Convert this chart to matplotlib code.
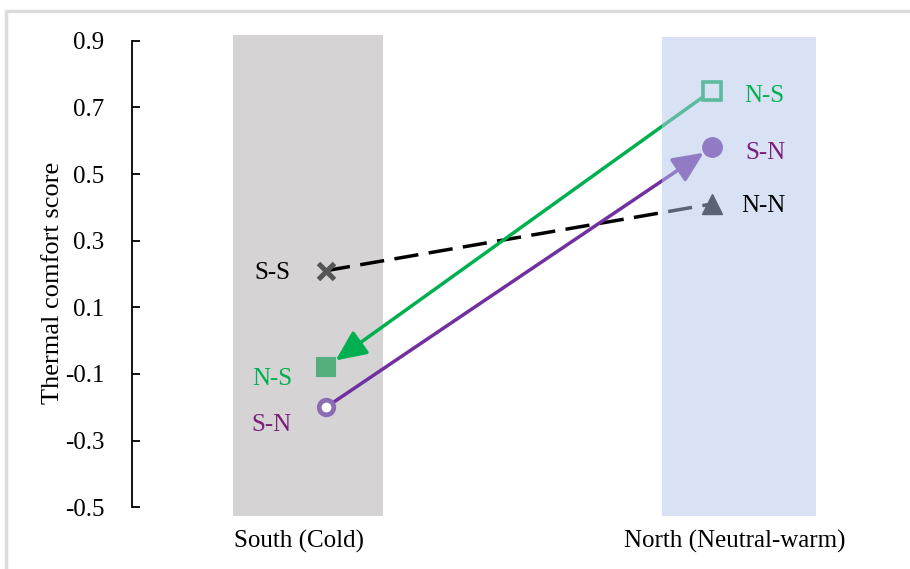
import matplotlib
matplotlib.use("Agg")
import matplotlib.pyplot as plt
from matplotlib.patches import Rectangle

plt.rcParams["font.family"] = ["Liberation Serif", "DejaVu Serif"]
plt.rcParams["font.size"] = 18

# Thermal comfort scores by climate of origin -> climate of test
climates = ["South (Cold)", "North (Neutral-warm)"]
ss_nn = [0.21, 0.41]   # S-S measured in the south, N-N measured in the north
ns = [-0.08, 0.75]     # N-S group: south value, north value
sn = [-0.20, 0.58]     # S-N group: south value, north value
yticks = [-0.5, -0.3, -0.1, 0.1, 0.3, 0.5, 0.7, 0.9]

GREEN = "#00B050"
PURPLE = "#7030A0"
LABEL_PURPLE = "#7B1E7A"
LW = 2.5

fig = plt.figure(figsize=(9.1, 5.69), dpi=100)
ax = fig.add_axes([132 / 910, 51.7 / 569, 748 / 910, 486.6 / 569])
ax.set_xlim(-0.383, 1.333)
ax.set_ylim(-0.53, 0.93)

# marker columns sit slightly inside each climate band
xs = [0.062, 0.947]

# climate bands: grey one behind the data, translucent blue one over it
ax.add_patch(Rectangle((-0.151, -0.525), 0.344, 1.442, facecolor="#D5D3D4",
                       lw=0, zorder=0))
ax.add_patch(Rectangle((0.833, -0.525), 0.353, 1.436, facecolor="#B4C6EA",
                       alpha=0.5, lw=0, zorder=4))

# control groups: S-S to N-N dashed link
ax.plot(xs, ss_nn, color="black", lw=LW, dashes=(7, 3), zorder=2)
ax.plot(xs[0], ss_nn[0], marker="x", ms=11, mew=3.6, color="#555555", zorder=3)
ax.plot(xs[1], ss_nn[1], marker="^", ms=14, color="black", zorder=3)

arrow_style = "-|>,head_length=1.1,head_width=0.5"

# N-S group moves north -> south
ax.annotate("", xy=(xs[0], ns[0]), xytext=(xs[1], ns[1]),
            arrowprops=dict(arrowstyle=arrow_style, color=GREEN, lw=LW,
                            shrinkA=0, shrinkB=8.5, mutation_scale=17),
            zorder=2)
ax.plot(xs[0], ns[0], marker="s", ms=13, color="#55AE7E", mec="#55AE7E",
        mew=1.5, zorder=3)
ax.plot(xs[1], ns[1], marker="s", ms=13.5, mfc="white", mec=GREEN, mew=2.6,
        zorder=3)

# S-N group moves south -> north
ax.annotate("", xy=(xs[1], sn[1]), xytext=(xs[0], sn[0]),
            arrowprops=dict(arrowstyle=arrow_style, color=PURPLE, lw=LW,
                            shrinkA=0, shrinkB=7, mutation_scale=17),
            zorder=2)
ax.plot(xs[0], sn[0], marker="o", ms=10.5, mfc="white", mec="#8B6BB3",
        mew=3.4, zorder=3)
ax.plot(xs[1], sn[1], marker="o", ms=14, color=PURPLE, zorder=3)

# group labels
labels = [
    ("S-S", xs[0], ss_nn[0], (-54, -2), "black"),
    ("N-S", xs[0], ns[0], (-54, -12), GREEN),
    ("S-N", xs[0], sn[0], (-55, -18), LABEL_PURPLE),
    ("N-S", xs[1], ns[1], (53, -5), GREEN),
    ("S-N", xs[1], sn[1], (54, -6), LABEL_PURPLE),
    ("N-N", xs[1], ss_nn[1], (52, -2), "black"),
]
for txt, x, y, off, col in labels:
    ax.annotate(txt, xy=(x, y), xytext=off, textcoords="offset pixels",
                ha="center", va="center", color=col, fontsize=18, zorder=5)

# axes styling
ax.set_xticks([0, 1])
ax.set_xticklabels(climates)
ax.tick_params(axis="x", length=0, pad=9, labelsize=18)
ax.set_yticks(yticks)
ax.set_yticklabels([f"{v:.1f}" for v in yticks])
ax.tick_params(axis="y", direction="in", length=6, width=1.3, pad=20,
               labelsize=18)
for side in ("top", "right", "bottom"):
    ax.spines[side].set_visible(False)
ax.spines["left"].set_bounds(-0.5, 0.9)
ax.spines["left"].set_linewidth(1.3)

ax.set_ylabel("Thermal comfort score", fontsize=19, va="center")
ax.yaxis.set_label_coords(-0.1055, 0.4815)

# light frame around the chart area
fig.add_artist(Rectangle((6 / 910, -0.05), 1.1, 1 - 10.5 / 569 + 0.05,
                         transform=fig.transFigure, fill=False,
                         ec="#DCDCDC", lw=2.5))

fig.savefig("out.png", dpi=100)
